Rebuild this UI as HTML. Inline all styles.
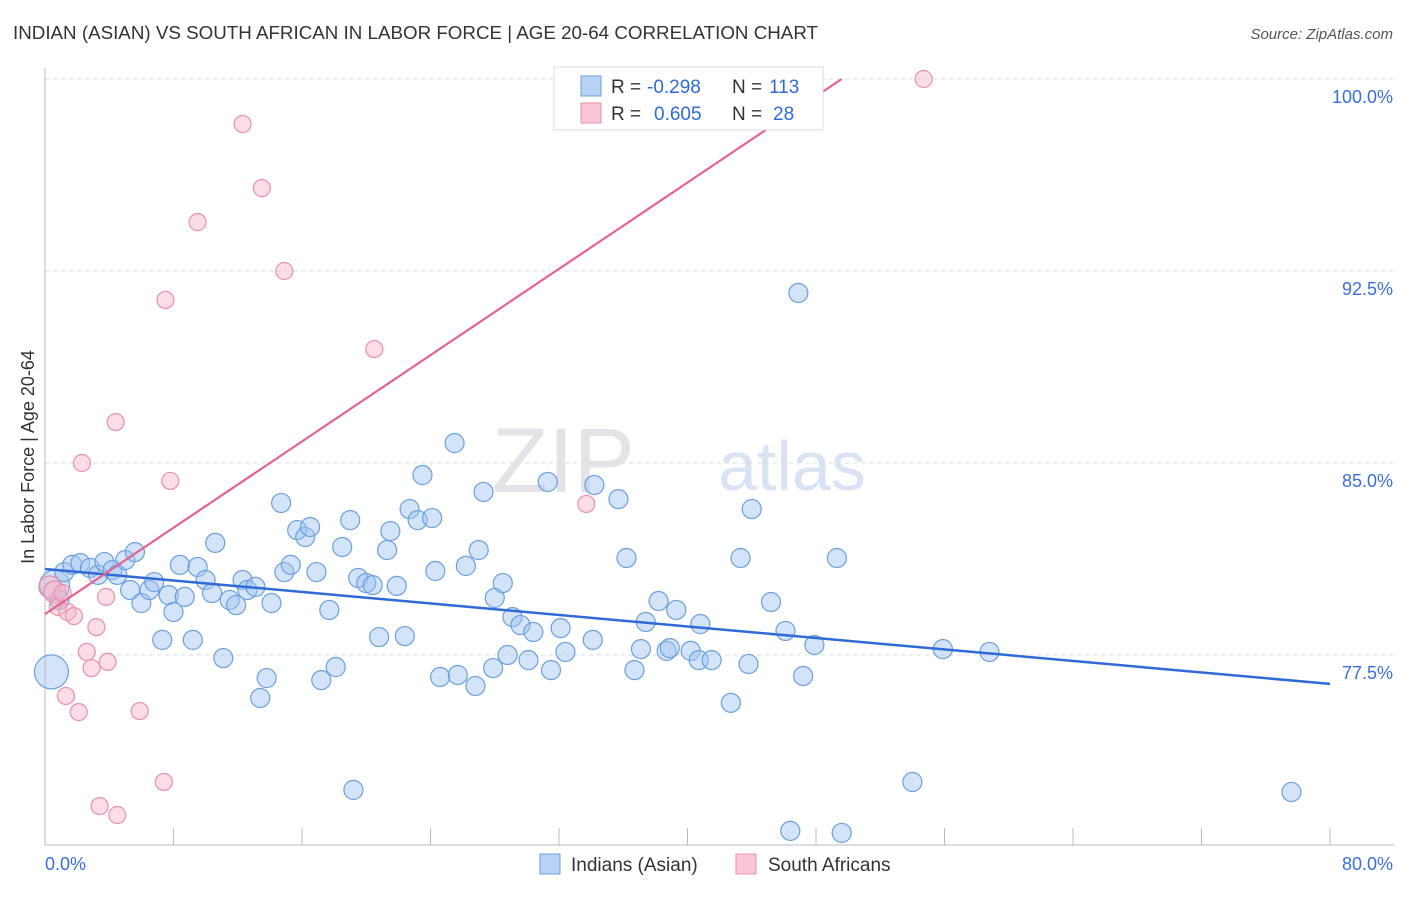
<!DOCTYPE html>
<html><head><meta charset="utf-8"><style>
body{margin:0;background:#fff;font-family:"Liberation Sans",sans-serif}
svg text{font-family:"Liberation Sans",sans-serif}
</style></head><body>
<svg id="c" width="1406" height="892">
<text x="13" y="39" font-size="18" fill="#333" textLength="805" lengthAdjust="spacingAndGlyphs">INDIAN (ASIAN) VS SOUTH AFRICAN IN LABOR FORCE | AGE 20-64 CORRELATION CHART</text>
<text x="1393" y="39" font-size="15" fill="#555" text-anchor="end" font-style="italic">Source: ZipAtlas.com</text>
<text x="635" y="492" font-size="92" fill="#e4e4e8" font-family="Liberation Serif" text-anchor="end">ZIP</text>
<text x="718" y="490" font-size="70" fill="#d8e4f4">atlas</text>
<text transform="translate(34,457) rotate(-90)" font-size="18" fill="#333" text-anchor="middle">In Labor Force | Age 20-64</text>
<g id="grid"></g><g id="pts"></g><g id="lines"></g>
<g>
<rect x="554" y="67" width="269" height="63" fill="#fff" stroke="#ddd"/>
<rect x="581" y="76" width="20" height="20" fill="#b8d3f5" stroke="#6a9fe0"/>
<rect x="581" y="103" width="20" height="20" fill="#f8c6d6" stroke="#e890ad"/>
<g font-size="19">
<text x="611" y="93" fill="#333">R =</text><text x="647" y="93" fill="#2f6bd6">-0.298</text>
<text x="732" y="93" fill="#333">N =</text><text x="769" y="93" fill="#2f6bd6">113</text>
<text x="611" y="120" fill="#333">R =</text><text x="654" y="120" fill="#2f6bd6">0.605</text>
<text x="732" y="120" fill="#333">N =</text><text x="773" y="120" fill="#2f6bd6">28</text>
</g>
</g>
<g>
<rect x="540" y="854" width="20" height="20" fill="#b8d3f5" stroke="#6a9fe0"/>
<text x="571" y="871" font-size="19" fill="#333">Indians (Asian)</text>
<rect x="736" y="854" width="20" height="20" fill="#f8c6d6" stroke="#e890ad"/>
<text x="768" y="871" font-size="19" fill="#333">South Africans</text>
</g>
</svg>
<script>
const blueX=[0.6,0.4,0.9,1.2,1.7,2.2,2.8,3.3,3.7,4.2,4.5,5.0,5.6,5.3,6.0,6.5,6.8,7.3,7.7,8.0,8.4,8.7,9.2,9.5,10.0,10.4,10.6,11.1,11.5,11.9,12.3,12.6,13.1,13.4,13.8,14.1,14.7,14.9,15.3,15.7,16.2,16.5,16.9,17.2,17.7,18.1,18.5,19.0,19.2,19.5,20.0,20.4,20.8,21.3,21.5,21.9,22.4,22.7,23.2,23.5,24.1,24.3,24.6,25.5,25.7,26.2,26.8,27.0,27.3,27.9,28.0,28.5,28.8,29.1,29.6,30.1,30.4,31.3,31.5,32.1,32.4,34.1,34.2,35.7,36.2,36.7,37.1,37.4,38.2,38.7,38.9,39.3,40.2,40.7,40.8,41.5,42.7,43.3,43.8,44.0,45.2,46.1,46.4,46.9,47.2,47.9,49.3,49.6,54.0,55.9,58.8,77.6];
const blueY=[80.23,76.84,79.65,80.74,81.02,81.09,80.90,80.63,81.13,80.82,80.63,81.21,81.52,80.04,79.53,80.04,80.35,78.09,79.84,79.18,81.02,79.77,78.09,80.94,80.43,79.92,81.88,77.38,79.65,79.45,80.43,80.04,80.16,75.82,76.60,79.53,83.44,80.74,81.02,82.38,82.11,82.50,80.74,76.52,79.26,77.03,81.72,82.77,72.23,80.51,80.31,80.23,78.20,81.60,82.34,80.20,78.24,83.20,82.77,84.53,82.85,80.78,76.64,85.78,76.72,80.98,76.29,81.60,83.87,76.99,79.73,80.31,77.50,78.98,78.67,77.30,78.40,84.26,76.91,78.55,77.62,78.09,84.14,83.59,81.29,76.91,77.73,78.79,79.61,77.66,77.77,79.26,77.66,77.30,78.71,77.30,75.63,81.29,77.15,83.20,79.57,78.44,70.63,91.64,76.68,77.89,81.29,70.55,72.54,77.73,77.62,72.15];
const pinkX=[0.3,0.6,0.8,1.1,1.4,1.8,2.3,2.6,2.9,3.2,3.9,3.8,1.3,2.1,3.4,4.5,4.4,5.9,7.4,7.5,7.8,9.5,12.3,13.5,14.9,20.5,33.7,54.7];
const pinkY=[80.16,79.96,79.38,79.92,79.18,79.02,85.0,77.62,76.99,78.59,77.23,79.77,75.90,75.27,71.60,71.25,86.60,75.31,72.54,91.37,84.30,94.41,98.24,95.74,92.50,89.45,83.40,100.0];
const yTicks=[77.5,85.0,92.5,100.0];
const xTicks=[0,8,16,24,32,40,48,56,64,72,80];
const blueTrend=[80.86,76.37];
const pinkTrend=[79.1,100.0];
const X0=45,X1=1330,Ytop=79,pxPer=25.6;
const sx=v=>X0+(v/80)*(X1-X0);
const sy=v=>Ytop+(100-v)*pxPer;
const NS="http://www.w3.org/2000/svg";
function mk(t,a,p){const e=document.createElementNS(NS,t);for(const k in a)e.setAttribute(k,a[k]);p.appendChild(e);return e;}
const g=document.getElementById('grid');
yTicks.forEach(t=>{
 const l=mk('line',{x1:45,x2:1395,y1:sy(t),y2:sy(t),stroke:'#ddd','stroke-dasharray':'4,4'},g);
 
 
 const tx=mk('text',{x:1393,y:sy(t)+24,'font-size':18,fill:'#3a6fd8','text-anchor':'end'},g);
 tx.textContent=t.toFixed(1)+'%';
 
 
});
let ax=mk('line',{x1:45,x2:45,y1:68,y2:845,stroke:'#bbb'},g);


let bx=mk('line',{x1:45,x2:1395,y1:845,y2:845,stroke:'#bbb'},g);


xTicks.forEach(t=>{
 const l=mk('line',{x1:sx(t),x2:sx(t),y1:828,y2:845,stroke:'#bbb'},g);
 
 
});
[[0,'start',45],[80,'end',1393]].forEach(([v,a,x])=>{
 const tx=mk('text',{x:x,y:870,'font-size':18,fill:'#3a6fd8','text-anchor':a},g);
 tx.textContent=v.toFixed(1)+'%';
 
 
});
const p=document.getElementById('pts');
blueX.forEach((v,i)=>{
 const r=i===0?15:(i===1?17:9.5);
 const c=mk('circle',{cx:sx(v),cy:sy(blueY[i]),r:r,fill:'rgba(160,196,240,0.45)',stroke:'#6a9fe0','stroke-width':1.2},p);
 
 
});
pinkX.forEach((v,i)=>{
 const c=mk('circle',{cx:sx(v),cy:sy(pinkY[i]),r:i<2?11:8.5,fill:'rgba(246,180,200,0.45)',stroke:'#e890ad','stroke-width':1.2},p);
 
 
});
const L=document.getElementById('lines');
let bl=mk('line',{x1:sx(0),y1:sy(blueTrend[0]),x2:sx(80),y2:sy(blueTrend[1]),stroke:'#2f6bd6','stroke-width':2.5},L);


let pl=mk('line',{x1:sx(0),y1:sy(pinkTrend[0]),x2:sx(49.6),y2:sy(pinkTrend[1]),stroke:'#e4638f','stroke-width':2.2},L);


</script>
</body></html>
